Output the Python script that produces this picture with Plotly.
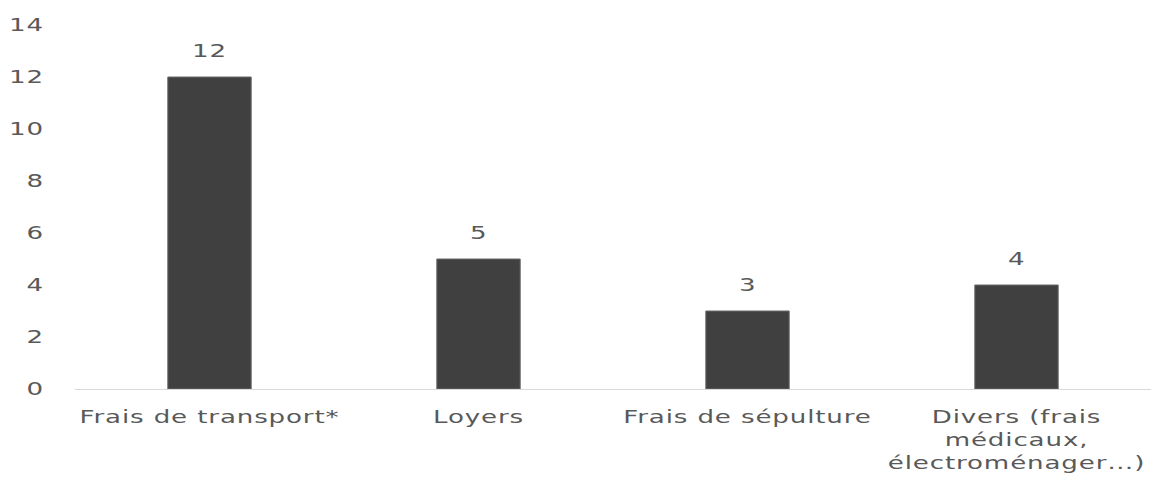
import plotly.graph_objects as go

# Expense categories and counts
categories = [
    "Frais de transport*",
    "Loyers",
    "Frais de sépulture",
    "Divers (frais<br>médicaux,<br>électroménager…)",
]
counts = [12, 5, 3, 4]
y_ticks = [0, 2, 4, 6, 8, 10, 12, 14]

text_color = "#595959"
font_family = "DejaVu Sans, Verdana, sans-serif"
font_size = 18

fig = go.Figure(
    go.Bar(
        x=categories,
        y=counts,
        marker=dict(color="#404040", line=dict(color="#6a6a6a", width=1)),
        width=0.31,
        hoverinfo="skip",
    )
)

# Value labels above each bar
for cat, val in zip(categories, counts):
    fig.add_annotation(
        x=cat, y=val, text=str(val), showarrow=False,
        yanchor="middle", yshift=27,
        font=dict(size=font_size, color=text_color, family=font_family),
    )

fig.update_layout(
    width=1151, height=490,
    margin=dict(l=75, r=0, t=25, b=101),
    plot_bgcolor="white", paper_bgcolor="white",
    showlegend=False,
    font=dict(family=font_family, size=font_size, color=text_color),
)
fig.update_yaxes(
    range=[0, 14], tickvals=y_ticks, showgrid=False, zeroline=False,
    showline=False, ticklabelstandoff=30,
    tickfont=dict(size=font_size, color=text_color),
)
fig.update_xaxes(
    showline=True, linecolor="#d9d9d9", linewidth=1, showgrid=False,
    ticks="", ticklabelstandoff=11,
    tickfont=dict(size=font_size, color=text_color),
)

# Stretch the lettering horizontally about each label's anchor point
widen_text = """
function widen(sel, pivot, k) {
  document.querySelectorAll(sel).forEach(function (t) {
    var b = t.getBBox();
    var px = pivot === 'end' ? b.x + b.width : b.x + b.width / 2;
    var tr = t.getAttribute('transform') || '';
    t.setAttribute('transform', tr + ' translate(' + px + ',0) scale(' + k + ',1) translate(' + (-px) + ',0)');
  });
}
document.querySelectorAll('g.xtick text, g.ytick text, text.annotation-text').forEach(function (t) {
  t.style.letterSpacing = '0.6px';
});
widen('g.xtick text', 'mid', 1.45);
widen('g.ytick text', 'end', 1.45);
widen('text.annotation-text', 'mid', 1.45);
"""

fig.write_html("out.html", post_script=widen_text)
